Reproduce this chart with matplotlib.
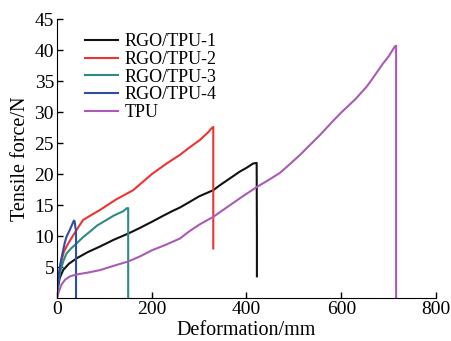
import matplotlib
matplotlib.use("Agg")
import matplotlib.pyplot as plt

plt.rcParams['font.family'] = ['Liberation Serif', 'DejaVu Serif']

# RGO/TPU-1 (black)
x1 = [0, 2.7, 6, 13.3, 25, 41.6, 65, 90.8, 120, 150.5, 175, 200.5, 225, 245.5, 259.6, 280, 300, 330, 344, 365, 386, 400, 414, 421.5, 422, 422]
y1 = [0, 1.8, 3.2, 4.5, 5.5, 6.4, 7.4, 8.3, 9.4, 10.4, 11.3, 12.3, 13.3, 14.1, 14.6, 15.5, 16.4, 17.4, 18.2, 19.3, 20.4, 21.0, 21.7, 21.8, 10, 3.5]
# RGO/TPU-2 (red)
x2 = [0, 3, 8, 15, 24, 40, 55.5, 75, 90.8, 125, 161, 200.5, 231.5, 259.6, 280, 301.8, 320, 326.5, 330, 330]
y2 = [0, 3, 5.5, 7.5, 8.8, 10.8, 12.6, 13.5, 14.2, 15.9, 17.4, 20, 21.7, 23.1, 24.3, 25.5, 26.8, 27.4, 27.6, 8.0]
# RGO/TPU-3 (teal)
x3 = [0, 3, 8, 14, 20.5, 30, 41.6, 55, 69.7, 85, 104.9, 120, 140, 148, 150.5, 150.5]
y3 = [0, 2.5, 4.5, 6.0, 7.2, 8.0, 8.8, 9.8, 10.7, 11.7, 12.6, 13.3, 14.0, 14.5, 14.5, 0]
# RGO/TPU-4 (blue)
x4 = [0, 2, 6.3, 10, 13.3, 17, 20.5, 27.4, 32, 35.9, 37.5, 39.5, 40.5, 40.5]
y4 = [0, 2.5, 5.0, 6.5, 7.7, 9.0, 9.9, 11.0, 11.8, 12.5, 12.4, 11.2, 11.0, 0]
# TPU (purple)
x5 = [0, 5, 10, 18, 28, 41.6, 65, 90.8, 120, 150.5, 175, 200.5, 230, 259.6, 280, 301.8, 330, 358, 390, 421.5, 450, 470.7, 490, 513, 530, 555, 583, 600.8, 630, 653.5, 664, 688.6, 700, 713, 715.6, 715.6]
y5 = [0, 1.2, 2.2, 3.0, 3.5, 3.8, 4.1, 4.5, 5.2, 5.9, 6.7, 7.7, 8.6, 9.6, 10.8, 11.9, 13.1, 14.6, 16.3, 17.9, 19.2, 20.2, 21.5, 23.1, 24.4, 26.3, 28.6, 30.0, 32.1, 34.1, 35.2, 37.9, 39.0, 40.6, 40.7, 0]

labels = ['RGO/TPU-1', 'RGO/TPU-2', 'RGO/TPU-3', 'RGO/TPU-4', 'TPU']
colors = ['#111111', '#ee3333', '#2f8a84', '#2d4ea8', '#a95bb5']

fig = plt.figure(figsize=(4.51, 3.41), dpi=100)
ax = fig.add_axes([0.126, 0.126, 0.841, 0.818])

for xs, ys, lab, c in zip([x1, x2, x3, x4, x5], [y1, y2, y3, y4, y5], labels, colors):
    ax.plot(xs, ys, color=c, lw=1.5, label=lab)

ax.set_xlim(0, 800)
ax.set_ylim(0, 45)
ax.set_xticks([0, 200, 400, 600, 800])
ax.set_yticks([5, 10, 15, 20, 25, 30, 35, 40, 45])
ax.spines['top'].set_visible(False)
ax.spines['right'].set_visible(False)
ax.tick_params(direction='in', length=4, labelsize=14, width=1, pad=2)
ax.set_xlabel('Deformation/mm', fontsize=14.5, labelpad=2)
ax.set_ylabel('Tensile force/N', fontsize=14.5, labelpad=3)

ax.legend(loc='upper left', bbox_to_anchor=(0.055, 0.975), frameon=False, fontsize=13,
          handlelength=1.85, handletextpad=0.35, labelspacing=0.04, borderaxespad=0)

fig.savefig('out.png', dpi=100)
